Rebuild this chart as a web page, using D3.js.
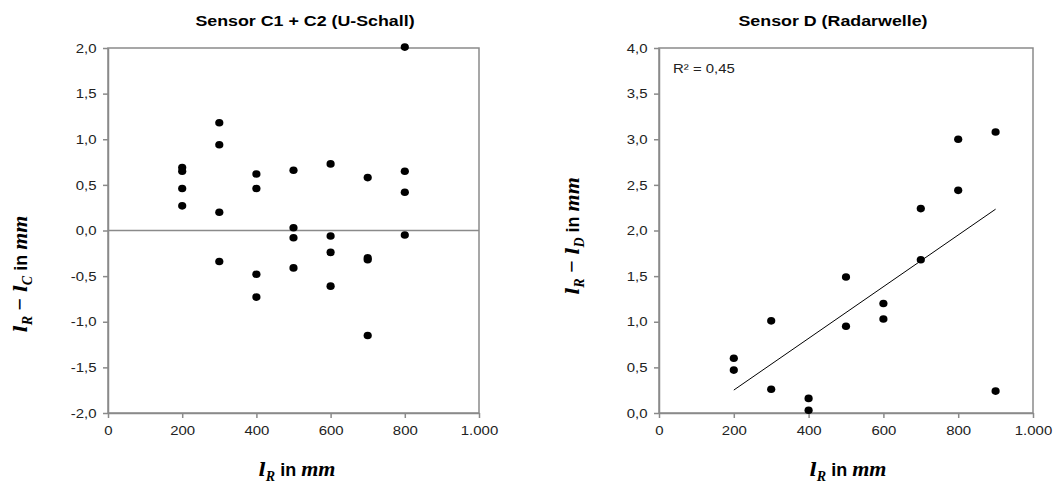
<!DOCTYPE html>
<html><head><meta charset="utf-8">
<script src="https://cdn.jsdelivr.net/npm/d3@7"></script>
<style>
body{margin:0;background:#fff;}
svg{display:block;}
</style></head>
<body>
<svg id="c" width="1059" height="488"></svg>
<script>
// ---- data ----
const xTicks = [0, 200, 400, 600, 800, 1000];
const yTicksLeft = [-2, -1.5, -1, -0.5, 0, 0.5, 1, 1.5, 2];
const yTicksRight = [0, 0.5, 1, 1.5, 2, 2.5, 3, 3.5, 4];
const leftX = [200,200,200,200, 300,300,300,300, 400,400,400,400, 500,500,500,500, 600,600,600,600, 700,700,700,700, 800,800,800,800];
const leftY = [0.69,0.65,0.46,0.27, 1.18,0.94,0.20,-0.34, 0.62,0.46,-0.48,-0.73, 0.66,0.03,-0.08,-0.41, 0.73,-0.06,-0.24,-0.61, 0.58,-0.30,-0.32,-1.15, 2.01,0.65,0.42,-0.05];
const rightX = [200,200, 300,300, 400,400, 500,500, 600,600, 700,700, 800,800, 900,900];
const rightY = [0.60,0.47, 1.01,0.26, 0.16,0.03, 1.49,0.95, 1.20,1.03, 1.68,2.24, 3.00,2.44, 3.08,0.24];
const titles = ["Sensor C1 + C2 (U-Schall)", "Sensor D (Radarwelle)"];
const r2Label = "R² = 0,45";

const svg = d3.select("#c");
const AX = "#8a8a8a", TXT = "#222";
const SX = 1.15; // horizontal text stretch of the reference
const fmtY = v => d3.format(".1f")(v).replace(".", ",").replace("\u2212", "-");
const fmtX = v => d3.format(",")(v).replace(/,/g, ".");

function panel(o) {
  const x = d3.scaleLinear().domain([0, 1000]).range([o.x0, o.x1]);
  const y = d3.scaleLinear().domain(o.yDom).range([413, 48]);
  const g = svg.append("g");
  g.append("rect").attr("x", o.x0).attr("y", 48).attr("width", o.x1 - o.x0).attr("height", 365)
    .attr("fill", "none").attr("stroke", AX).attr("stroke-width", 1.5);
  const ax = g.append("g").attr("transform", `translate(0,413)`)
    .call(d3.axisBottom(x).tickValues(xTicks).tickFormat(fmtX).tickSizeOuter(0).tickSizeInner(5).tickPadding(8));
  const ay = g.append("g").attr("transform", `translate(${o.x0},0)`)
    .call(d3.axisLeft(y).tickValues(o.yTicks).tickFormat(fmtY).tickSizeOuter(0).tickSizeInner(5).tickPadding(5));
  [ax, ay].forEach(a => {
    a.select(".domain").attr("stroke", AX).attr("stroke-width", 1.5);
    a.selectAll(".tick line").attr("stroke", AX).attr("stroke-width", 1.5);
    a.selectAll(".tick text").attr("font-family", "Liberation Sans, Arial, sans-serif")
      .attr("font-size", 13).attr("fill", TXT).attr("transform", `scale(${SX},1)`);
  });
  if (o.zeroLine) {
    g.append("line").attr("x1", o.x0).attr("x2", o.x1).attr("y1", y(0)).attr("y2", y(0))
      .attr("stroke", AX).attr("stroke-width", 1.5);
  }
  if (o.trend) {
    const n = o.xs.length, mx = d3.mean(o.xs), my = d3.mean(o.ys);
    let sxy = 0, sxx = 0;
    for (let i = 0; i < n; i++) { sxy += (o.xs[i] - mx) * (o.ys[i] - my); sxx += (o.xs[i] - mx) ** 2; }
    const b = sxy / sxx, a0 = my - b * mx;
    const xe = d3.extent(o.xs);
    g.append("line").attr("x1", x(xe[0])).attr("x2", x(xe[1]))
      .attr("y1", y(a0 + b * xe[0])).attr("y2", y(a0 + b * xe[1]))
      .attr("stroke", "#000").attr("stroke-width", 1);
  }
  g.selectAll("ellipse.pt").data(o.xs.map((v, i) => [v, o.ys[i]])).enter().append("ellipse")
    .attr("cx", d => x(d[0])).attr("cy", d => y(d[1])).attr("rx", 4.1).attr("ry", 3.8).attr("fill", "#000");
  svg.append("text").attr("transform", `translate(${o.tx},26) scale(${SX},1)`).attr("text-anchor", "middle")
    .attr("font-family", "Liberation Sans, Arial, sans-serif").attr("font-weight", "bold").attr("font-size", 15.5)
    .attr("fill", "#000").text(o.title);
  mathLabel(svg.append("text").attr("transform", `translate(${o.xlx},476)`), null);
  mathLabel(svg.append("text").attr("transform", `translate(${o.ylx},${o.yly}) rotate(-90)`), o.sub2);
}

function mathLabel(t, sub2) {
  t.attr("text-anchor", "middle").attr("font-size", 22).attr("fill", "#000").attr("font-weight", "bold");
  const serif = "Liberation Serif, DejaVu Serif, serif";
  const dj = "DejaVu Serif, serif";
  const sans = "Liberation Sans, Arial, sans-serif";
  t.append("tspan").attr("font-family", dj).attr("font-style", "italic").attr("font-size", 19).text("l");
  t.append("tspan").attr("font-family", serif).attr("font-style", "italic").attr("font-size", 14).attr("dy", 5).text("R");
  if (sub2) {
    t.append("tspan").attr("font-family", serif).attr("dy", -5).text(" − ");
    t.append("tspan").attr("font-family", dj).attr("font-style", "italic").attr("font-size", 19).text("l");
    t.append("tspan").attr("font-family", serif).attr("font-style", "italic").attr("font-size", 14).attr("dy", 5).text(sub2);
  }
  t.append("tspan").attr("font-family", sans).attr("font-size", 18).attr("dy", -5).text(" in ");
  t.append("tspan").attr("font-family", serif).attr("font-style", "italic").text("mm");
}

panel({x0: 108, x1: 479, yDom: [-2, 2], yTicks: yTicksLeft, xs: leftX, ys: leftY, zeroLine: true,
  title: titles[0], tx: 305, xlx: 297, ylx: 27, yly: 274, sub2: "C"});
panel({x0: 659, x1: 1033, yDom: [0, 4], yTicks: yTicksRight, xs: rightX, ys: rightY, trend: true,
  title: titles[1], tx: 833, xlx: 848, ylx: 579, yly: 236, sub2: "D"});

svg.append("text").attr("transform", `translate(673,73) scale(${SX},1)`)
  .attr("font-family", "Liberation Sans, Arial, sans-serif").attr("font-size", 13).attr("fill", TXT).text(r2Label);
</script>
</body></html>
